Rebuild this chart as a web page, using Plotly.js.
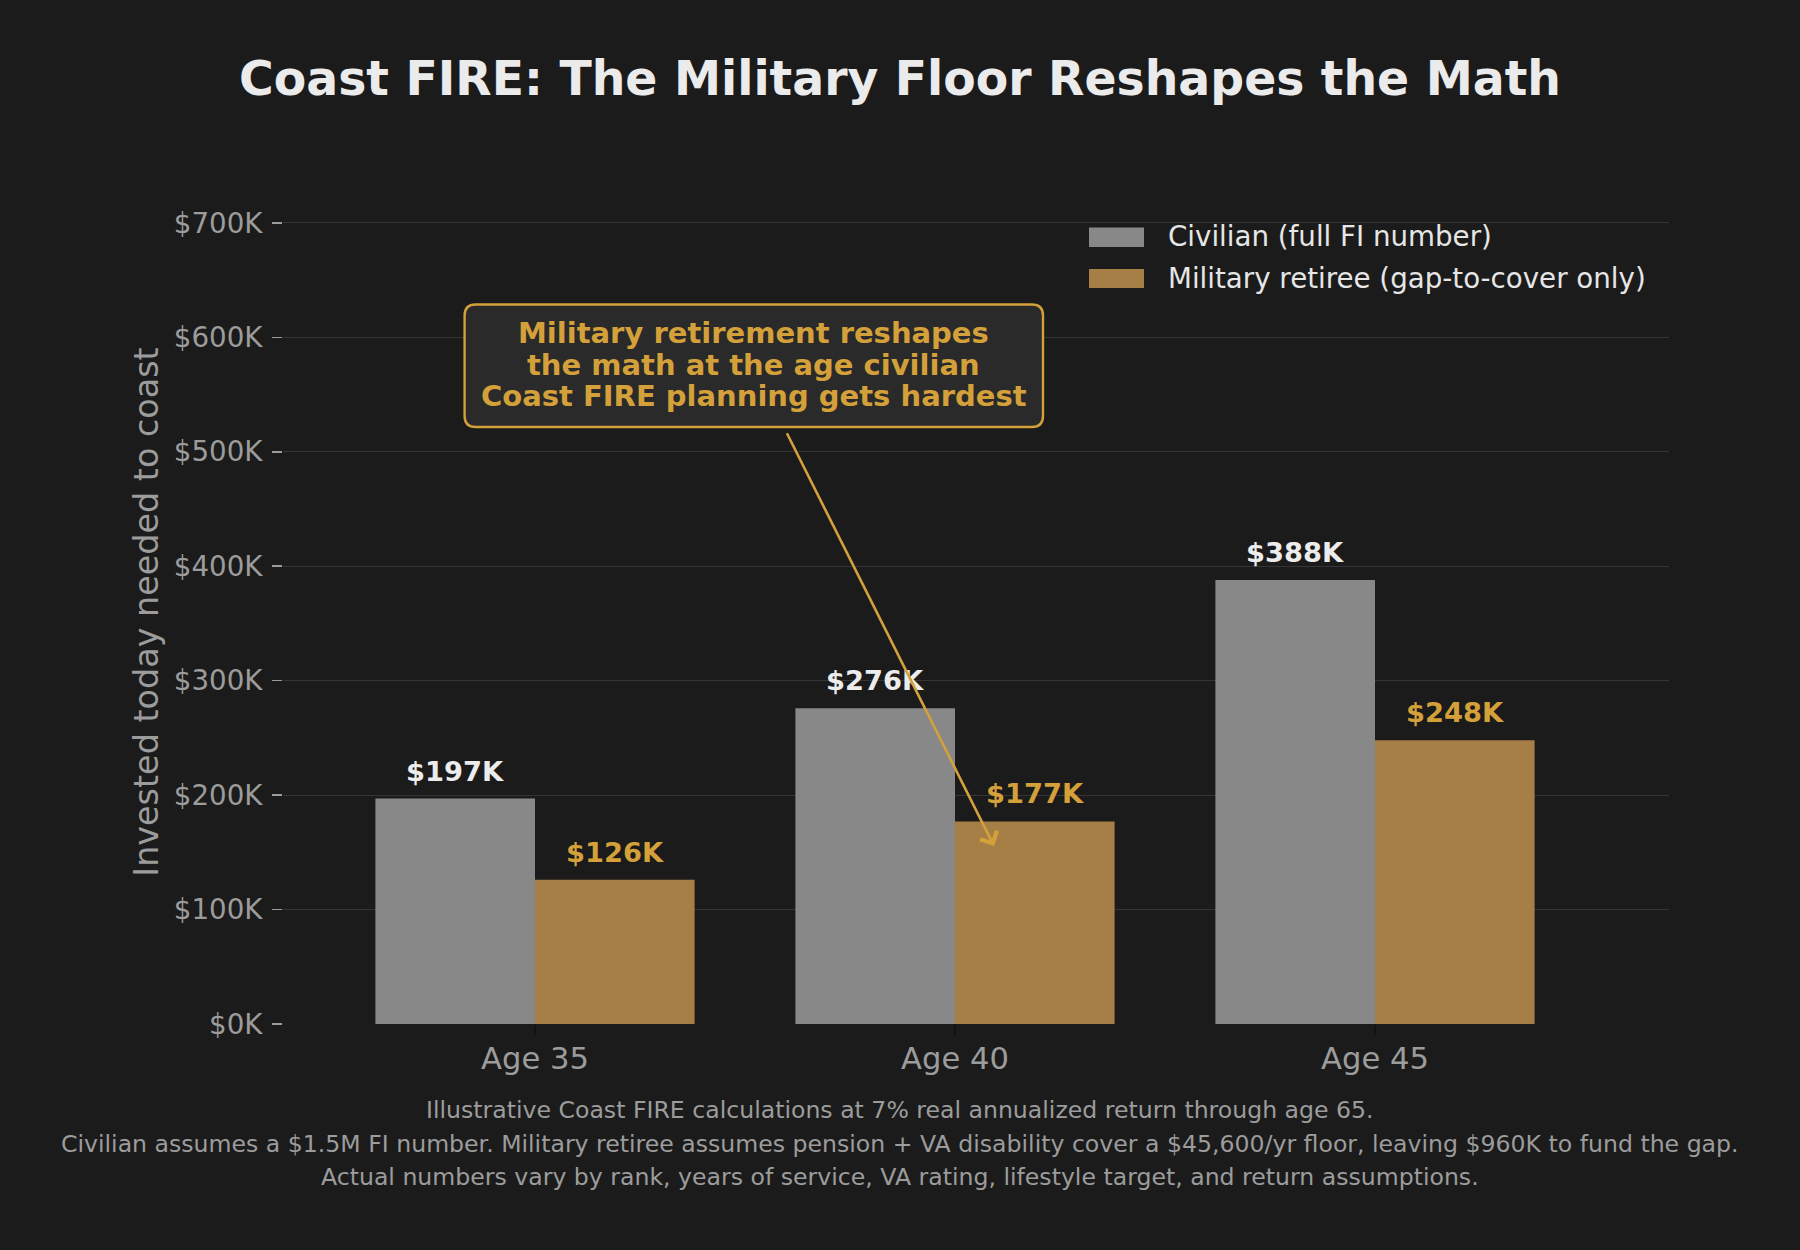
<!DOCTYPE html>
<html>
<head>
<meta charset="utf-8">
<script src="https://cdn.plot.ly/plotly-3.0.1.min.js"></script>
<style>
  html, body { margin: 0; padding: 0; background: #1b1b1b; }
  #chart { width: 1800px; height: 1250px; }
</style>
</head>
<body>
<div id="chart"></div>
<script>
// ---------------- data ----------------
const categories = ['Age 35', 'Age 40', 'Age 45'];
const civilian = [197000, 276000, 388000];
const military = [126000, 177000, 248000];
const seriesNames = ['Civilian (full FI number)', 'Military retiree (gap-to-cover only)'];
const yTickVals = [0, 100000, 200000, 300000, 400000, 500000, 600000, 700000];
const yTickText = ['$0K', '$100K', '$200K', '$300K', '$400K', '$500K', '$600K', '$700K'];
const titleText = 'Coast FIRE: The Military Floor Reshapes the Math';
const yTitleText = 'Invested today needed to coast';
const calloutLines = [
  'Military retirement reshapes',
  'the math at the age civilian',
  'Coast FIRE planning gets hardest'
];
const footnoteLines = [
  'Illustrative Coast FIRE calculations at 7% real annualized return through age 65.',
  'Civilian assumes a $1.5M FI number. Military retiree assumes pension + VA disability cover a $45,600/yr floor, leaving $960K to fund the gap.',
  'Actual numbers vary by rank, years of service, VA rating, lifestyle target, and return assumptions.'
];
// arrow of the callout (data coordinates: category index, dollars)
const arrowTip = [1.093, 155500];
const arrowTail = [0.598, 517500];

// ---------------- style ----------------
const FONT = 'DejaVu Sans';
const BG = '#1b1b1b';
const GOLD = '#d4a03a';
const CIV_COLOR = '#888888';
const MIL_COLOR = '#a67f47';
const GRAY_TEXT = '#9c9c9c';
const W = 1800, H = 1250;
const M = { l: 283, r: 131, t: 200, b: 226 };
const PW = W - M.l - M.r, PH = H - M.t - M.b;
const px = x => (x - M.l) / PW;
const py = y => (H - M.b - y) / PH;
const bargap = 0.24;
const half = (1 - bargap) / 4;

const xIdx = categories.map((_, i) => i);

const traces = [
  { type: 'bar', name: seriesNames[0], x: xIdx, y: civilian,
    marker: { color: CIV_COLOR }, showlegend: false, hoverinfo: 'y' },
  { type: 'bar', name: seriesNames[1], x: xIdx, y: military,
    marker: { color: MIL_COLOR }, showlegend: false, hoverinfo: 'y' }
];

const fmtK = v => '$' + Math.round(v / 1000) + 'K';

const annotations = [];
// bar value labels
xIdx.forEach(i => {
  annotations.push({ x: i - half, y: civilian[i], xref: 'x', yref: 'y',
    text: '<b>' + fmtK(civilian[i]) + '</b>', showarrow: false, yanchor: 'bottom', yshift: 10,
    font: { family: FONT, size: 27.3, color: '#ececec' } });
  annotations.push({ x: i + half, y: military[i], xref: 'x', yref: 'y',
    text: '<b>' + fmtK(military[i]) + '</b>', showarrow: false, yanchor: 'bottom', yshift: 10,
    font: { family: FONT, size: 27.3, color: GOLD } });
});

// text placed by baseline (pixel coords)
function textAt(cx, baseline, text, size, color, xanchor, bold) {
  return { xref: 'paper', yref: 'paper', x: px(cx), y: py(baseline),
    xanchor: xanchor || 'center', yanchor: 'bottom', yshift: -(0.236 * size + 1),
    text: bold ? '<b>' + text + '</b>' : text, showarrow: false,
    font: { family: FONT, size: size, color: color } };
}

// callout text
const calloutBase = [344, 375.8, 407.5];
calloutLines.forEach((t, k) => annotations.push(textAt(753.8, calloutBase[k], t, 29, GOLD, 'center', true)));

// callout arrow
annotations.push({ x: arrowTip[0], y: arrowTip[1], xref: 'x', yref: 'y',
  ax: arrowTail[0], ay: arrowTail[1], axref: 'x', ayref: 'y',
  text: '', showarrow: true, arrowhead: 4, arrowsize: 1.4, arrowwidth: 2.6,
  arrowcolor: GOLD, standoff: 0, startstandoff: 0 });

// legend text
annotations.push(textAt(1166, 247.5, seriesNames[0], 27.7, '#e6e6e6', 'left'));
annotations.push(textAt(1166, 289.5, seriesNames[1], 27.7, '#e6e6e6', 'left'));

// footnotes
const footBase = [1119.5, 1153, 1186.5];
footnoteLines.forEach((t, k) => annotations.push(textAt(900, footBase[k], t, 23.6, GRAY_TEXT, 'center')));

// shapes: callout box with rounded corners + legend patches
function roundedBox(l, t, r, b, rad) {
  const P = (x, y) => px(x) + ',' + py(y);
  return 'M' + P(l + rad, t) + ' L' + P(r - rad, t) + ' Q' + P(r, t) + ' ' + P(r, t + rad) +
    ' L' + P(r, b - rad) + ' Q' + P(r, b) + ' ' + P(r - rad, b) +
    ' L' + P(l + rad, b) + ' Q' + P(l, b) + ' ' + P(l, b - rad) +
    ' L' + P(l, t + rad) + ' Q' + P(l, t) + ' ' + P(l + rad, t) + ' Z';
}
const shapes = [
  { type: 'path', xref: 'paper', yref: 'paper', path: roundedBox(464.6, 304.5, 1043, 427, 11),
    fillcolor: '#2a2a2a', line: { color: GOLD, width: 2.4 }, layer: 'above' },
  { type: 'rect', xref: 'paper', yref: 'paper', x0: px(1089), x1: px(1144), y0: py(247), y1: py(227.5),
    fillcolor: CIV_COLOR, line: { width: 0 } },
  { type: 'rect', xref: 'paper', yref: 'paper', x0: px(1089), x1: px(1144), y0: py(288), y1: py(269),
    fillcolor: MIL_COLOR, line: { width: 0 } }
];

const layout = {
  width: W, height: H,
  paper_bgcolor: BG, plot_bgcolor: BG,
  margin: M,
  font: { family: FONT, color: GRAY_TEXT },
  title: { text: '<b>' + titleText + '</b>', x: 0.5, xanchor: 'center', xref: 'container',
    y: 1 - 95 / H, yref: 'container', yanchor: 'bottom',
    font: { family: FONT, size: 47.3, color: '#ebebeb' } },
  barmode: 'group', bargap: bargap, bargroupgap: 0,
  xaxis: {
    range: [-0.6, 2.7], tickvals: xIdx, ticktext: categories,
    showgrid: false, zeroline: false, showline: false,
    ticks: 'outside', ticklen: 10, tickwidth: 1.5, tickcolor: '#111111',
    ticklabelstandoff: -3,
    tickfont: { family: FONT, size: 30.6, color: GRAY_TEXT }
  },
  yaxis: {
    range: [0, 720000], tickvals: yTickVals, ticktext: yTickText,
    showgrid: true, gridcolor: '#353535', gridwidth: 1.2, zeroline: false, showline: false,
    ticks: 'outside', ticklen: 10, tickwidth: 1.5, tickcolor: GRAY_TEXT,
    ticklabelstandoff: 4,
    tickfont: { family: FONT, size: 27.7, color: GRAY_TEXT },
    title: { text: yTitleText, standoff: 5, font: { family: FONT, size: 33.4, color: GRAY_TEXT } }
  },
  annotations: annotations,
  shapes: shapes,
  showlegend: false
};

Plotly.newPlot('chart', traces, layout, { displayModeBar: false, staticPlot: true });
</script>
</body>
</html>
